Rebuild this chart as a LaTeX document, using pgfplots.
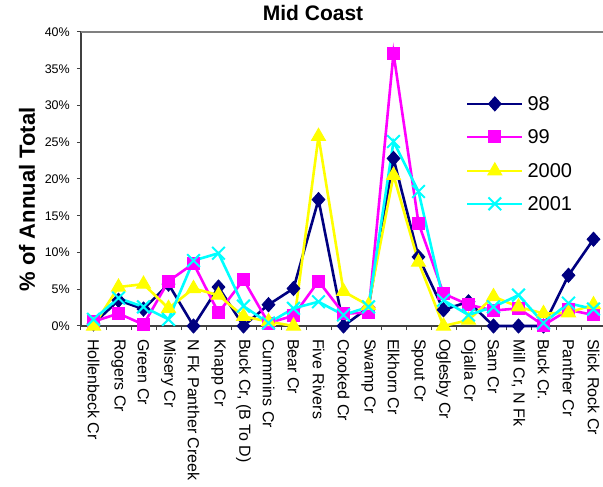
\documentclass[border=0pt]{standalone}
\usepackage{pgfplots}
\usepackage{pgfplotstable}
\pgfplotsset{compat=1.18}
\usepackage{fontspec}
\setmainfont{Liberation Sans}

\definecolor{s98}{HTML}{000080}
\definecolor{s99}{HTML}{FF00FF}
\definecolor{s00}{HTML}{FFFF00}
\definecolor{s01}{HTML}{00FFFF}
\definecolor{axisdark}{HTML}{404040}
\definecolor{framegray}{HTML}{808080}

\pgfplotsset{
  longline legend/.style={legend image code/.code={%
    \draw[mark repeat=2,mark phase=2,##1]
      plot coordinates {(0bp,0bp) (27.5bp,0bp) (55bp,0bp)};}},
}

% share of the annual total (%) per creek, one column per year
\pgfplotstableread{
idx y98  y99  y00  y01
0   0.3  0.6  0.0  0.9
1   3.5  1.7  5.3  3.8
2   2.3  0.2  5.7  2.6
3   5.7  6.1  2.4  0.9
4   0.0  8.5  5.1  8.9
5   5.3  1.8  4.2  9.9
6   0.0  6.3  1.3  2.7
7   2.9  0.4  0.6  0.4
8   5.1  1.4  0.0  2.4
9   17.2 6.1  25.8 3.3
10  0.0  1.7  4.7  1.5
11  2.5  1.8  2.8  2.6
12  22.8 37.1 20.5 25.1
13  9.4  14.0 8.7  18.3
14  2.2  4.4  0.0  3.5
15  3.3  2.9  0.8  1.5
16  0.0  2.1  4.0  2.6
17  0.0  2.4  2.6  4.2
18  0.0  0.1  1.7  0.4
19  6.9  2.2  1.8  3.1
20  11.8 1.5  2.9  2.3
}\datatable

\begin{document}
\begin{tikzpicture}
\begin{axis}[
  at={(81bp,161bp)}, anchor=south west,
  scale only axis, width=525bp, height=294bp,
  xmin=-0.5, xmax=20.5, ymin=0, ymax=40,
  clip=false,
  axis x line*=bottom, axis y line*=left,
  axis line style={line width=1.5bp, draw=axisdark},
  tick align=outside,
  ytick={0,5,...,40},
  yticklabel={\pgfmathprintnumber{\tick}\%},
  /pgf/number format/assume math mode=true,
  y tick style={line width=1bp, draw=axisdark},
  major tick length=4bp,
  minor tick length=4bp,
  yticklabel style={font=\fontsize{12.5bp}{14bp}\selectfont, inner sep=0pt, xshift=-7bp},
  xtick={0,...,20},
  major x tick style={draw=none},
  minor xtick={-0.5,0.5,...,20.5},
  minor x tick style={line width=1bp, draw=axisdark},
  xticklabels={Hollenbeck Cr, Rogers Cr, Green Cr, Misery Cr, N Fk Panther Creek,
    Knapp Cr, {Buck Cr, (B To D)}, Cummins Cr, Bear Cr, Five Rivers, Crooked Cr,
    Swamp Cr, Elkhorn Cr, Spout Cr, Oglesby Cr, Ojalla Cr, Sam Cr, {Mill Cr, N Fk},
    Buck Cr., Panther Cr, Slick Rock Cr},
  xticklabel shift=9bp,
  xticklabel style={rotate=-90, anchor=west, inner sep=0pt,
    font=\fontsize{16bp}{18bp}\selectfont},
  title={Mid Coast},
  title style={font=\bfseries\fontsize{21bp}{24bp}\selectfont,
    at={(axis description cs:0.442,1)}, anchor=base, yshift=6bp},
  ylabel={\% of Annual Total},
  ylabel style={font=\bfseries\fontsize{22bp}{25bp}\selectfont,
    at={(axis description cs:-0.103,0.43)}, anchor=center},
  legend cell align=left,
  legend style={at={(axis description cs:0.733,0.78)}, anchor=north west,
    draw=none, fill=none, inner sep=0pt, row sep=19bp,
    font=\fontsize{20bp}{24bp}\selectfont,
    nodes={inner sep=0pt, text depth=0pt},
    /tikz/every odd column/.append style={column sep=4bp}},
]
\draw[framegray, line width=1.5bp] (rel axis cs:0,1) -- (rel axis cs:1,1) -- (rel axis cs:1,0);

\addplot[color=s98, line width=2.6bp, mark=diamond*, longline legend,
  mark options={solid, line width=1bp, fill=s98, mark size=7bp, xscale=1.2}]
  table[x=idx, y=y98] {\datatable};
\addlegendentry{98}
\addplot[color=s99, line width=2.6bp, mark=square*, longline legend,
  mark options={solid, line width=1bp, fill=s99, mark size=6bp}]
  table[x=idx, y=y99] {\datatable};
\addlegendentry{99}
\addplot[color=s00, line width=2.6bp, mark=triangle*, longline legend,
  mark options={solid, line width=1bp, fill=s00, mark size=8bp}]
  table[x=idx, y=y00] {\datatable};
\addlegendentry{2000}
\addplot[color=s01, line width=2.6bp, mark=x, longline legend,
  mark options={solid, line width=2bp, mark size=9bp}]
  table[x=idx, y=y01] {\datatable};
\addlegendentry{2001}
\end{axis}
\pgfresetboundingbox
\path[use as bounding box] (0,0) rectangle (603bp,487bp);
\end{tikzpicture}
\end{document}
